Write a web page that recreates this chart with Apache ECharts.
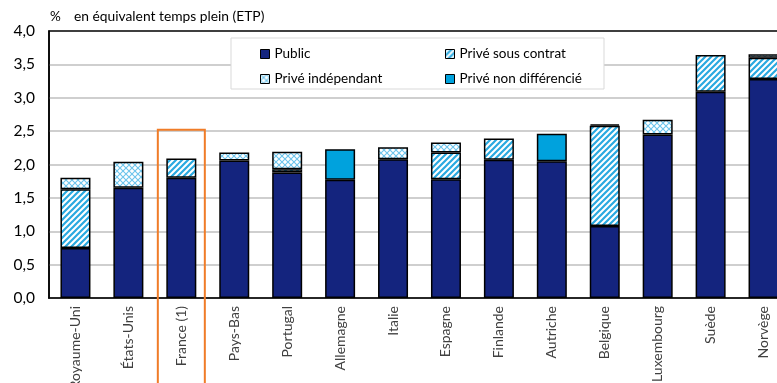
<!DOCTYPE html>
<html lang="fr">
  <head>
    <meta charset="UTF-8">
    <title>ETP</title>
    <style>
      html, body { margin: 0; padding: 0; background: #fff; }
      #chart { width: 777px; height: 383px; }
    </style>
  </head>
  <body>
    <div id="chart"></div>
    <script src="https://cdn.jsdelivr.net/npm/echarts@6/dist/echarts.min.js"></script>
    <script type="text/javascript">
      var categories = ['Royaume-Uni', 'États-Unis', 'France (1)', 'Pays-Bas', 'Portugal', 'Allemagne', 'Italie',
        'Espagne', 'Finlande', 'Autriche', 'Belgique', 'Luxembourg', 'Suède', 'Norvège'];
      var publicVals = [0.75, 1.65, 1.80, 2.06, 1.88, 1.77, 2.08, 1.78, 2.07, 2.05, 1.08, 2.45, 3.09, 3.28];
      var contratVals = [0.88, null, 0.29, null, 0.05, null, null, 0.40, 0.32, null, 1.50, null, 0.55, 0.32];
      var indepVals = [0.17, 0.39, null, 0.12, 0.26, null, 0.18, 0.15, null, null, 0.02, 0.22, null, 0.05];
      var nonDiffVals = [null, null, null, null, null, 0.46, null, null, null, 0.41, null, null, null, null];
      var yTicks = [0, 0.5, 1, 1.5, 2, 2.5, 3, 3.5, 4];

      var font = 'Lato, "Noto Sans", sans-serif';

      // motifs hachurés
      function stripes() {
        var s = 6, c = document.createElement('canvas');
        c.width = s; c.height = s;
        var ctx = c.getContext('2d');
        ctx.fillStyle = '#fff';
        ctx.fillRect(0, 0, s, s);
        ctx.strokeStyle = '#29a9e0';
        ctx.lineWidth = 2.2;
        ctx.beginPath();
        ctx.moveTo(0, s); ctx.lineTo(s, 0);
        ctx.moveTo(-1, 1); ctx.lineTo(1, -1);
        ctx.moveTo(s - 1, s + 1); ctx.lineTo(s + 1, s - 1);
        ctx.stroke();
        return c;
      }
      function cross() {
        var s = 6, c = document.createElement('canvas');
        c.width = s; c.height = s;
        var ctx = c.getContext('2d');
        ctx.fillStyle = '#fff';
        ctx.fillRect(0, 0, s, s);
        ctx.strokeStyle = '#6cc4ec';
        ctx.lineWidth = 1.1;
        ctx.beginPath();
        ctx.moveTo(0, s); ctx.lineTo(s, 0);
        ctx.moveTo(0, 0); ctx.lineTo(s, s);
        ctx.stroke();
        return c;
      }

      var myChart = echarts.init(document.getElementById('chart'));

      function barSeries(name, data, color) {
        return {
          name: name,
          type: 'bar',
          stack: 'etp',
          barWidth: 30,
          data: data,
          itemStyle: { color: color, borderColor: '#000', borderWidth: 1.5 }
        };
      }

      var legendText = { fontFamily: font, fontSize: 13.5, color: '#000' };
      var titleText = { fontFamily: font, fontWeight: 'normal', color: '#000' };

      var option = {
        backgroundColor: '#fff',
        animation: false,
        title: [{
          text: '%',
          left: 50, top: 10,
          padding: 0,
          textStyle: Object.assign({ fontSize: 13.5 }, titleText)
        }, {
          text: 'en équivalent temps plein (ETP)',
          left: 74, top: 10,
          padding: 0,
          textStyle: Object.assign({ fontSize: 13.8 }, titleText)
        }],
        grid: {
          left: 49, top: 31, width: 741, height: 267,
          outerBoundsMode: 'none',
          show: true, borderColor: '#000', borderWidth: 1.5
        },
        legend: [{
          data: ['Public', 'Privé indépendant'],
          orient: 'vertical',
          left: 255, top: 42,
          itemWidth: 9, itemHeight: 9, itemGap: 11,
          icon: 'rect',
          itemStyle: { borderColor: '#000', borderWidth: 1 },
          textStyle: legendText
        }, {
          data: ['Privé sous contrat', 'Privé non différencié'],
          orient: 'vertical',
          left: 440, top: 42,
          itemWidth: 9, itemHeight: 9, itemGap: 11,
          icon: 'rect',
          itemStyle: { borderColor: '#000', borderWidth: 1 },
          textStyle: legendText
        }],
        xAxis: {
          type: 'category',
          data: categories,
          axisLine: { lineStyle: { color: '#000', width: 1.5 } },
          axisTick: { show: false },
          axisLabel: { rotate: 90, interval: 0, margin: 8, fontFamily: font, fontSize: 14, color: '#404040' }
        },
        yAxis: {
          type: 'value',
          min: yTicks[0],
          max: yTicks[yTicks.length - 1],
          interval: 0.5,
          axisLine: { show: true, lineStyle: { color: '#000', width: 1.5 } },
          axisTick: { show: false },
          splitLine: { showMaxLine: false, lineStyle: { color: '#bfbfbf', width: 1.5 } },
          axisLabel: {
            margin: 14, fontFamily: font, fontSize: 15.5, color: '#000',
            formatter: function (v) { return v.toFixed(1).replace('.', ','); }
          }
        },
        series: [
          barSeries('Public', publicVals, '#14247e'),
          barSeries('Privé sous contrat', contratVals, { image: stripes(), repeat: 'repeat' }),
          barSeries('Privé indépendant', indepVals, { image: cross(), repeat: 'repeat' }),
          barSeries('Privé non différencié', nonDiffVals, '#00a2dd')
        ]
      };

      myChart.setOption(option);

      // cadre de la légende et cadre orange autour de la France
      var franceIdx = categories.indexOf('France (1)');
      var p = myChart.convertToPixel({ xAxisIndex: 0, yAxisIndex: 0 }, [franceIdx, 2.52]);
      myChart.setOption({
        graphic: [{
          type: 'rect',
          shape: { x: 231, y: 38, width: 373, height: 51 },
          style: { fill: '#fff', stroke: '#d9d9d9', lineWidth: 1 },
          z: 0
        }, {
          type: 'rect',
          shape: { x: p[0] - 23.5, y: p[1], width: 47, height: 400 },
          style: { fill: 'none', stroke: '#f07c28', lineWidth: 2 },
          z: 10
        }]
      });
    </script>
  </body>
</html>
